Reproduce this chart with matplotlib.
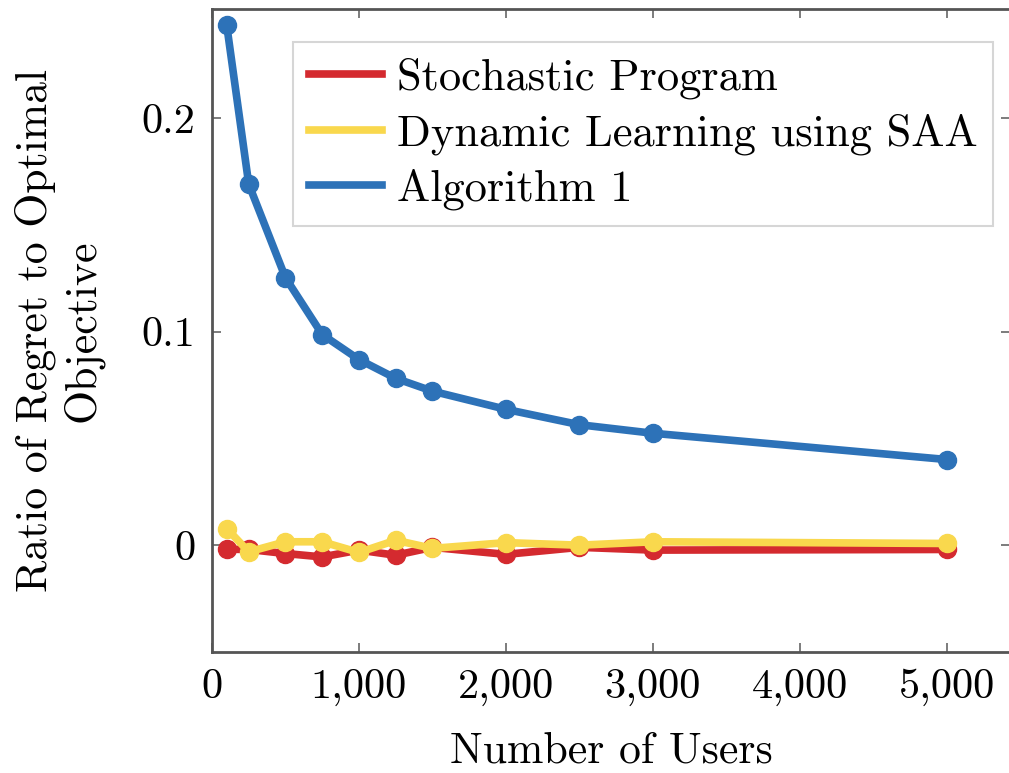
import matplotlib
matplotlib.use('Agg')
import matplotlib.pyplot as plt
from matplotlib.lines import Line2D
from matplotlib.ticker import FuncFormatter

users = [100, 250, 500, 750, 1000, 1250, 1500, 2000, 2500, 3000, 5000]
stochastic = [-0.0019, -0.0020, -0.0039, -0.0055, -0.0023, -0.0047, -0.0010, -0.0043, -0.0010, -0.0023, -0.0020]
saa = [0.0078, -0.0031, 0.0016, 0.0016, -0.0034, 0.0023, -0.0015, 0.0012, 0.0000, 0.0016, 0.0008]
algo1 = [0.2435, 0.1690, 0.1252, 0.0986, 0.0869, 0.0781, 0.0721, 0.0636, 0.0564, 0.0524, 0.0401]

labels = ['Stochastic Program', 'Dynamic Learning using SAA', 'Algorithm 1']
colors = ['#D42A2F', '#F9D84D', '#2D72B8']

plt.rcParams['font.family'] = 'cmr10'
plt.rcParams['mathtext.fontset'] = 'cm'
plt.rcParams['axes.formatter.use_mathtext'] = True

fig = plt.figure(figsize=(10.09, 7.73), dpi=100)
ax = fig.add_axes([212 / 1009, 121 / 773, 798 / 1009, 643 / 773])

for ys, c in zip([stochastic, saa, algo1], colors):
    ax.plot(users, ys, color=c, lw=5.5, marker='o', ms=13, solid_joinstyle='round')

ax.set_xlim(0, 5430)
ax.set_ylim(-0.05, 0.251)
ax.set_xticks([0, 1000, 2000, 3000, 4000, 5000])
ax.set_yticks([0, 0.1, 0.2])
ax.xaxis.set_major_formatter(FuncFormatter(lambda v, p: '{:,}'.format(int(v))))
ax.yaxis.set_major_formatter(FuncFormatter(lambda v, p: '0' if v == 0 else '{:.1f}'.format(v)))
ax.tick_params(direction='in', length=6.5, width=1.2, color='#666666', top=True, right=True,
               labelsize=30.5, pad=12)
for s in ax.spines.values():
    s.set_color('#555555')
    s.set_linewidth(2)

ax.set_xlabel('Number of Users', fontsize=31.5, labelpad=18)
ax.set_ylabel('Ratio of Regret to Optimal\nObjective', fontsize=31.5, labelpad=27)

handles = [Line2D([0], [0], color=c, lw=5.5) for c in colors]
leg = ax.legend(handles, labels, loc='upper left', bbox_to_anchor=(293 / 1009, 1 - 42 / 773),
                bbox_transform=fig.transFigure, fontsize=32, frameon=True, fancybox=False,
                handlelength=1.65, handletextpad=0.33, borderpad=0.35, labelspacing=0.32,
                borderaxespad=0)
leg.get_frame().set_edgecolor('#cccccc')
leg.get_frame().set_linewidth(1.5)

fig.savefig('out.png', dpi=100)
